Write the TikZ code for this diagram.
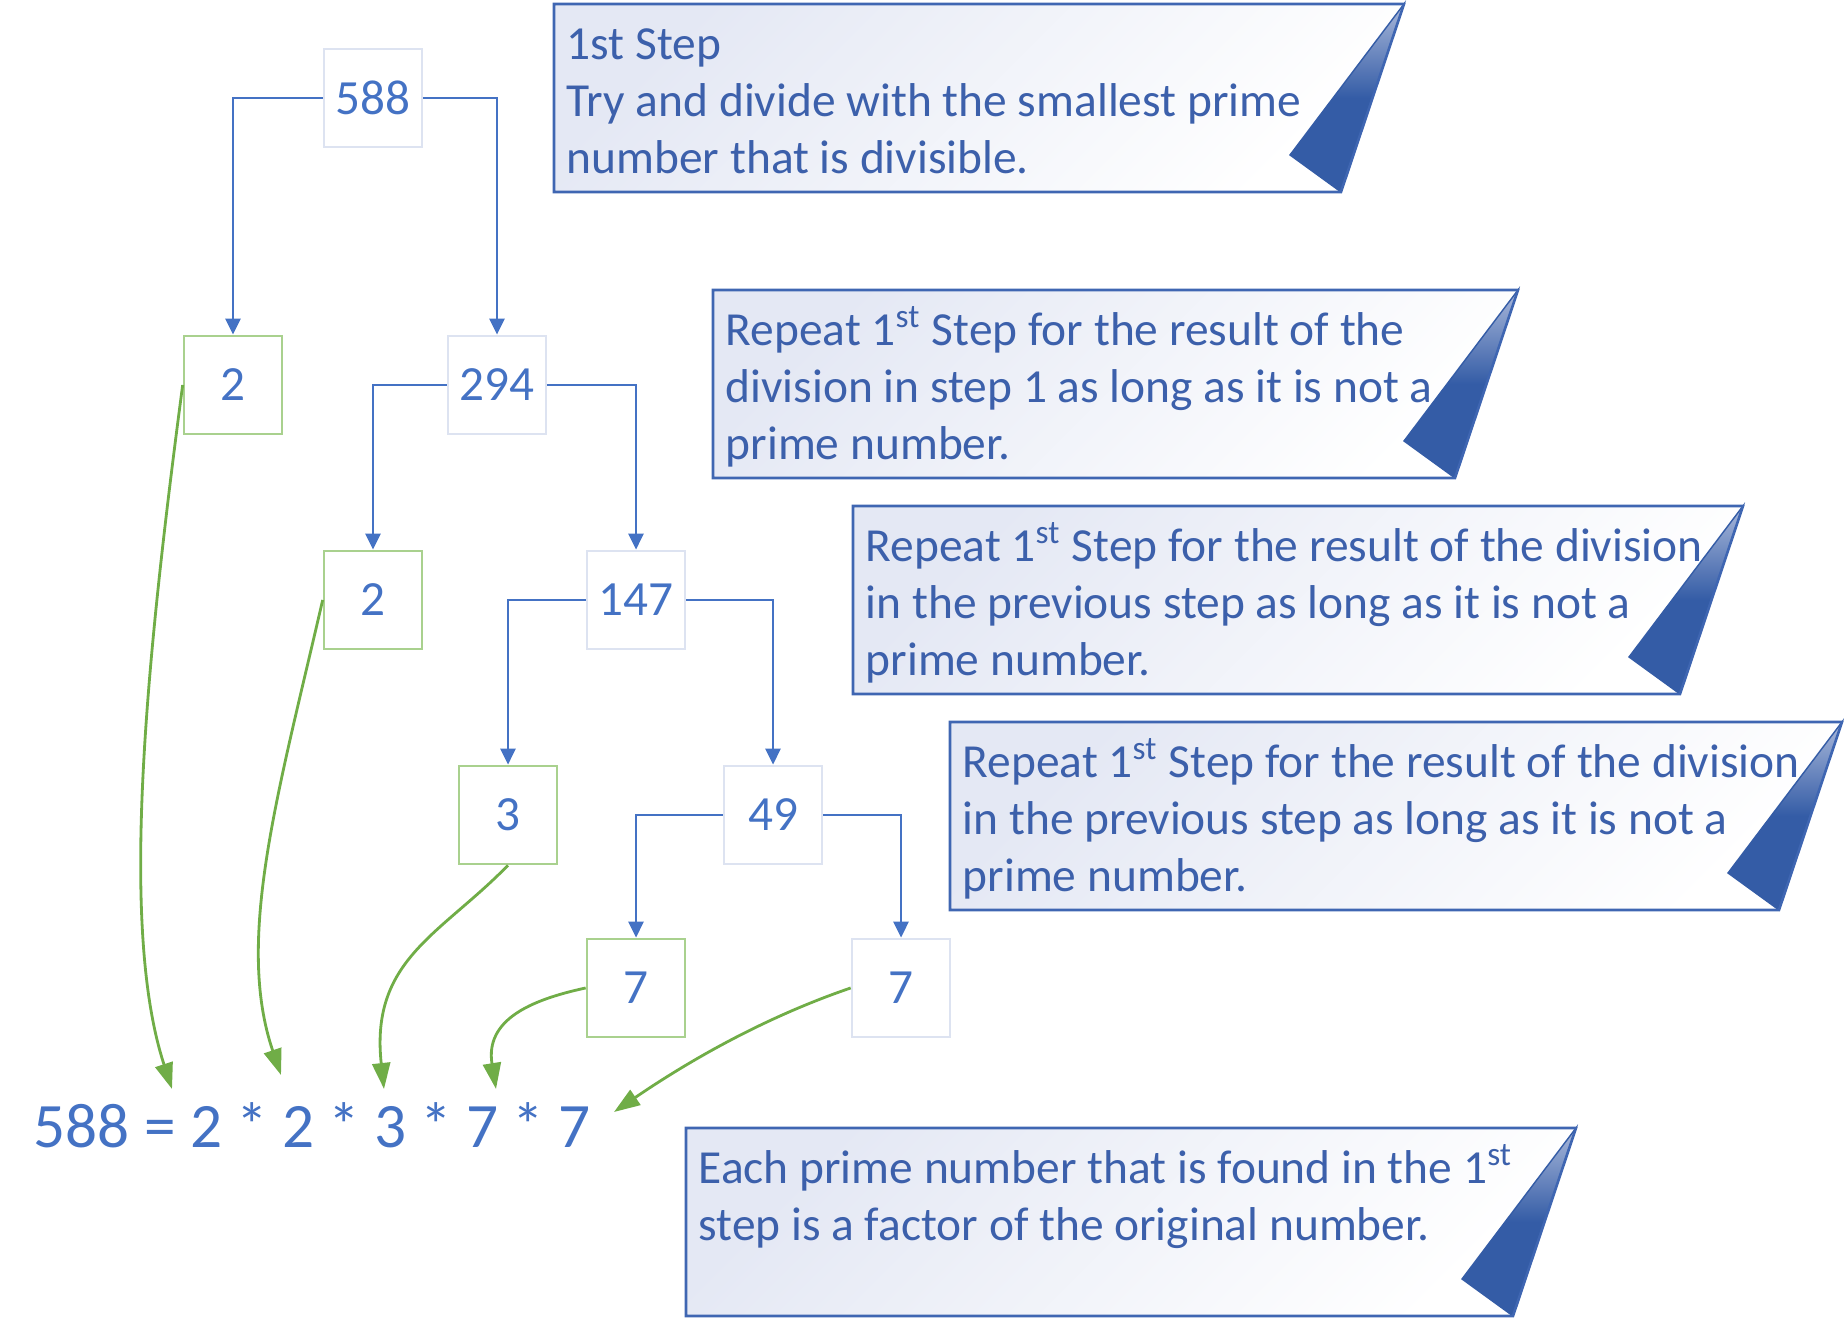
\documentclass[tikz,border=0pt]{standalone}
\usepackage{fontspec}
\setmainfont{Carlito}
\usetikzlibrary{arrows.meta, positioning, calc}
\definecolor{treeBlue}{HTML}{4472C4}
\definecolor{boxEdge}{HTML}{DDE3F1}
\definecolor{primeEdge}{HTML}{A9D18E}
\definecolor{arrowGreen}{HTML}{70AD47}
\definecolor{noteEdge}{HTML}{3F66B2}
\definecolor{noteInk}{HTML}{3C60AB}
\definecolor{noteLav}{HTML}{E4E8F4}
\definecolor{foldBlue}{HTML}{345CA6}
\definecolor{foldLight}{HTML}{A9B8DA}
\newcommand{\DrawNote}[5]{
    \begin{scope}[shift={(#2,#3)}]
        \shade[noteBack] (0,0) -- (#4+0.63,0) -- (#4,-1.88) -- (0,-1.88) -- cycle;
        \shade[noteFold] (#4+0.63,0) -- (#4-0.51,-1.51) -- (#4,-1.88) -- cycle;
        \draw[noteEdge, line width=0.75pt] (0,0) -- (#4+0.63,0) -- (#4,-1.88) -- (0,-1.88) -- cycle;
        \node[noteText] (#1) at (0.12,-0.15) {\strut #5};
    \end{scope}
}
\tikzset{
    % Tree Styles
    numBox/.style={draw=boxEdge, line width=0.75pt, minimum size=0.98cm, inner sep=0pt,
        text=treeBlue, font=\fontsize{14pt}{16.8pt}\selectfont},
    primeBox/.style={numBox, draw=primeEdge},
    treeLink/.style={-{Triangle[width=1.5mm,length=1.6mm]}, line width=0.8pt, draw=treeBlue},
    primeLink/.style={-{Triangle[width=1.8mm,length=2.6mm]}, line width=0.8pt, draw=arrowGreen},
    factorLine/.style={anchor=base west, inner sep=0pt, text=treeBlue, font=\fontsize{18pt}{21.6pt}\selectfont},
    % Note Styles
    noteBack/.style={top color=noteLav, bottom color=white, shading angle=45},
    noteFold/.style={top color=foldLight, bottom color=foldBlue, middle color=foldBlue, draw=foldBlue, line width=0.4pt},
    noteText/.style={anchor=north west, inner sep=0pt, align=left, text=noteInk,
        font=\fontsize{13.5pt}{16.2pt}\selectfont}
}
\begin{document}
\begin{tikzpicture}
    \useasboundingbox (0,0) rectangle (18.44,13.2);
    % Notes
    \DrawNote{stepOne}{5.54}{13.16}{7.87}{1st Step\\Try and divide with the smallest prime\\number that is divisible.}
    \DrawNote{stepTwo}{7.13}{10.30}{7.42}{Repeat 1\textsuperscript{st} Step for the result of the\\division in step 1 as long as it is not a\\prime number.}
    \DrawNote{stepThree}{8.53}{8.14}{8.27}{Repeat 1\textsuperscript{st} Step for the result of the division\\in the previous step as long as it is not a\\prime number.}
    \DrawNote{stepFour}{9.50}{5.98}{8.29}{Repeat 1\textsuperscript{st} Step for the result of the division\\in the previous step as long as it is not a\\prime number.}
    \DrawNote{stepFive}{6.86}{1.92}{8.27}{Each prime number that is found in the 1\textsuperscript{st}\\step is a factor of the original number.}

    % Factor tree
    \node[numBox] (n588) at (3.73,12.22) {588};
    \node[primeBox] (twoA) at (2.33,9.35) {2};
    \node[numBox] (n294) at (4.97,9.35) {294};
    \node[primeBox] (twoB) at (3.73,7.20) {2};
    \node[numBox] (n147) at (6.36,7.20) {147};
    \node[primeBox] (three) at (5.08,5.05) {3};
    \node[numBox] (n49) at (7.73,5.05) {49};
    \node[primeBox] (sevenA) at (6.36,3.32) {7};
    \node[numBox] (sevenB) at (9.01,3.32) {7};

    \draw[treeLink] (n588.west) -| (twoA.north);
    \draw[treeLink] (n588.east) -| (n294.north);
    \draw[treeLink] (n294.west) -| (twoB.north);
    \draw[treeLink] (n294.east) -| (n147.north);
    \draw[treeLink] (n147.west) -| (three.north);
    \draw[treeLink] (n147.east) -| (n49.north);
    \draw[treeLink] (n49.west) -| (sevenA.north);
    \draw[treeLink] (n49.east) -| (sevenB.north);

    % Result
    \node[factorLine] (result) at (0.33,1.72) {588 = 2 * 2 * 3 * 7 * 7};
    \coordinate (slotA) at (1.72,2.31);
    \coordinate (slotB) at (2.81,2.45);
    \coordinate (slotC) at (3.84,2.31);
    \coordinate (slotD) at (4.96,2.31);
    \coordinate (slotE) at (6.14,2.08);
    \draw[primeLink] (twoA.west) .. controls (1.45,6.5) and (1.2,3.9) .. (slotA);
    \draw[primeLink] (twoB.west) .. controls (2.78,5.26) and (2.35,3.8) .. (slotB);
    \draw[primeLink] (three.south) .. controls (4.4,3.85) and (3.7,3.6) .. (slotC);
    \draw[primeLink] (sevenA.west) .. controls (5.3,3.2) and (4.85,3.0) .. (slotD);
    \draw[primeLink] (sevenB.west) .. controls (7.57,3.0) and (6.8,2.53) .. (slotE);
\end{tikzpicture}
\end{document}
